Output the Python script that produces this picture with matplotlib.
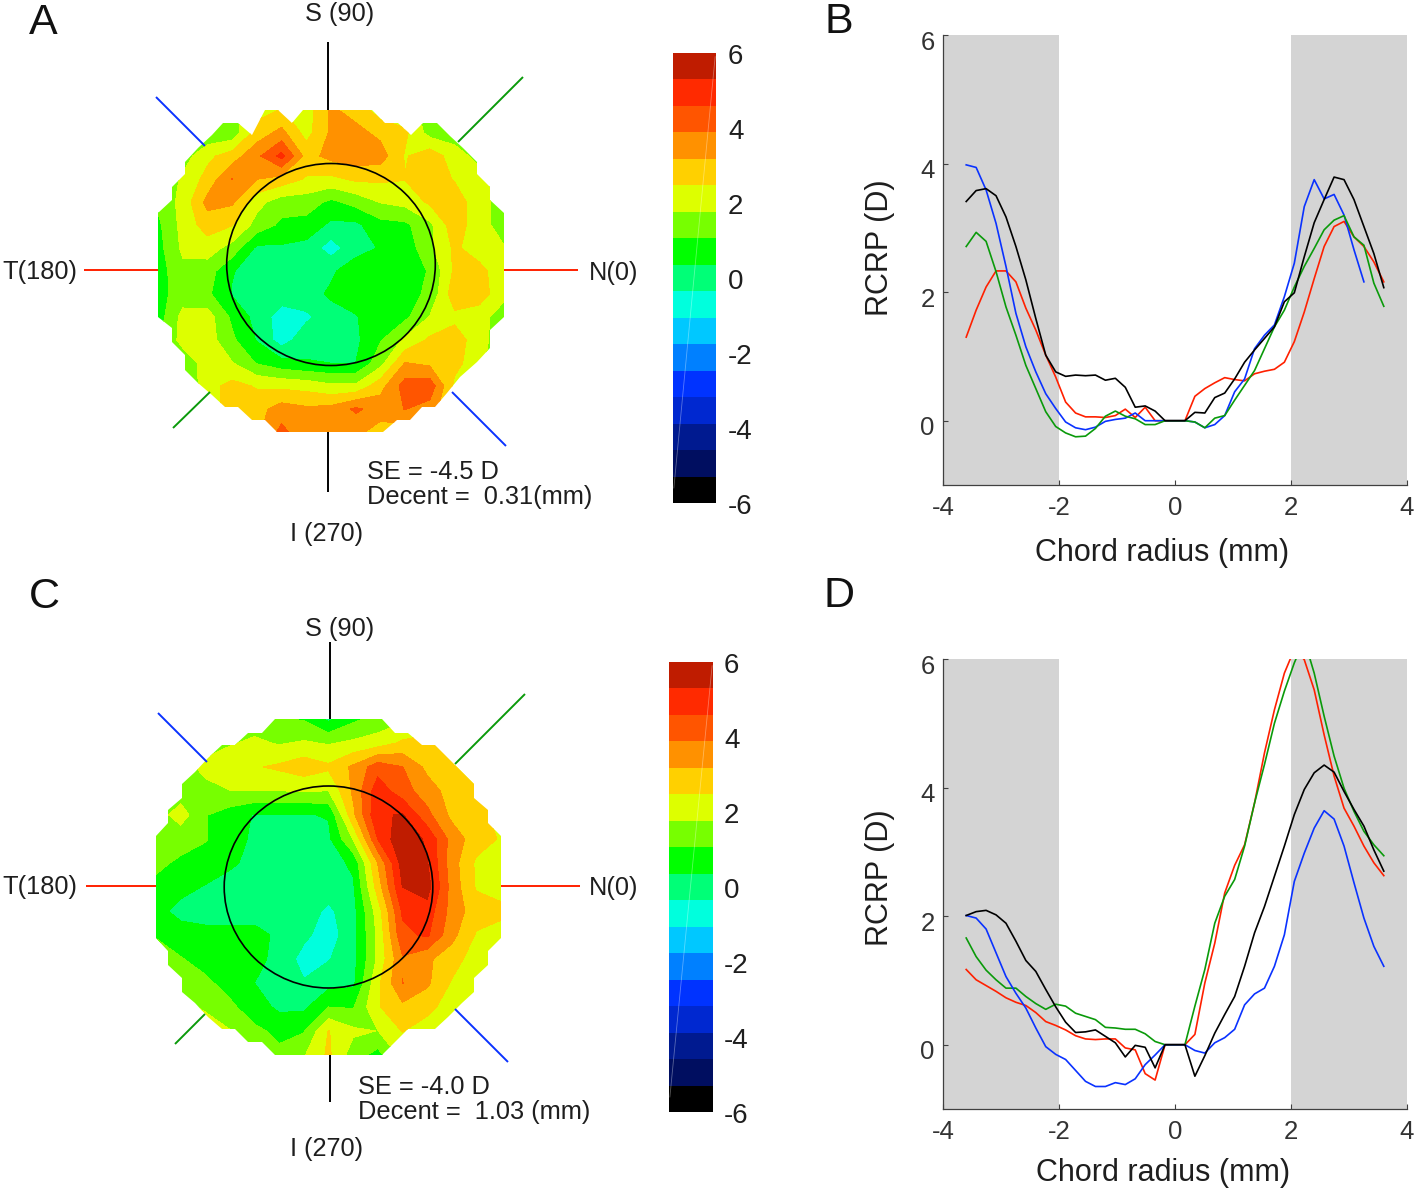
import numpy as np
import matplotlib
matplotlib.use("Agg")
import matplotlib.pyplot as plt
from matplotlib.patches import Ellipse, Polygon, Rectangle
from matplotlib.transforms import ScaledTranslation

plt.rcParams['font.family'] = ['Liberation Sans', 'DejaVu Sans']
plt.rcParams['axes.unicode_minus'] = False

W, H = 1416, 1190

# colour bands of the maps, low to high
band_colors = ['#000000', '#000E60', '#001A90', '#0028D0', '#0033FF', '#0080FF',
               '#00C8FF', '#00FFDD', '#00FF77', '#00FF00', '#77FF00', '#DDFF00',
               '#FFD000', '#FF9100', '#FF5500', '#FF2A00', '#BF1C00']
levels = np.linspace(-6, 6, 18)
cbar_ticks = [6, 4, 2, 0, -2, -4, -6]

# map A, refractive power (D) on a 15x15 grid, top row first
map_a = [
    [1.2, 1.2, 1.2, 1.6, 2.2, 2.5, 2.1, 3.3, 2.9, 2.1, 2.0, 1.5, 1.2, 1.0, 1.0],
    [1.0, 1.1, 1.2, 1.3, 2.8, 3.4, 2.2, 3.3, 3.4, 3.0, 2.6, 1.5, 1.4, 1.1, 1.0],
    [1.0, 1.4, 2.3, 2.8, 3.7, 4.8, 2.9, 3.4, 3.6, 3.5, 2.4, 2.9, 2.1, 1.5, 1.1],
    [1.0, 1.9, 2.7, 3.9, 3.2, 2.9, 2.4, 2.3, 2.6, 2.6, 2.5, 3.0, 2.4, 2.1, 1.2],
    [1.2, 2.0, 3.4, 3.3, 2.0, 1.4, 1.4, 0.9, 1.3, 1.8, 2.0, 2.6, 2.9, 2.0, 1.5],
    [0.9, 2.0, 2.8, 2.5, 1.5, 0.9, 0.8, 0.2, 0.2, 0.8, 0.9, 1.6, 2.9, 2.0, 1.5],
    [0.8, 1.9, 2.1, 1.5, 0.2, 0.25, 0.1, -0.7, 0.1, 0.4, 0.6, 1.6, 2.6, 2.1, 1.8],
    [0.7, 1.6, 1.4, 0.4, 0.0, 0.0, 0.0, 0.25, 0.7, 0.8, 0.8, 1.1, 2.6, 2.7, 2.0],
    [0.8, 1.4, 1.2, 0.3, -0.1, 0.0, 0.1, 0.45, 0.7, 0.8, 0.8, 1.2, 2.9, 2.8, 2.0],
    [0.7, 2.0, 2.1, 0.9, 0.1, -0.7, -0.5, 0.1, 0.3, 0.8, 0.9, 1.8, 2.3, 2.1, 1.3],
    [1.0, 2.0, 2.1, 1.2, 0.3, -0.7, 0.1, 0.1, 0.2, 1.0, 1.9, 2.6, 2.8, 2.1, 1.2],
    [1.0, 1.3, 2.1, 1.8, 1.0, 0.6, 0.4, 0.35, 0.35, 1.5, 3.2, 3.0, 2.7, 2.0, 1.0],
    [1.0, 1.0, 2.2, 2.7, 2.4, 2.3, 2.2, 1.9, 1.9, 2.9, 4.2, 4.3, 2.3, 2.0, 1.0],
    [1.0, 1.0, 2.0, 2.9, 2.9, 3.5, 3.3, 3.4, 4.0, 3.6, 3.9, 3.6, 2.3, 2.0, 1.0],
    [1.0, 1.0, 2.0, 2.6, 3.0, 4.1, 3.3, 3.3, 3.4, 2.8, 2.8, 2.8, 2.3, 2.0, 1.0],
]

# map C, same grid
map_c = [
    [1.4, 1.4, 1.4, 1.4, 1.4, 1.1, 1.0, 0.2, 0.9, 1.3, 1.6, 2.0, 2.4, 2.4, 2.4],
    [1.4, 1.4, 1.4, 1.7, 1.9, 1.7, 1.85, 1.7, 1.9, 2.1, 2.6, 2.7, 2.4, 2.4, 2.4],
    [1.4, 1.4, 2.0, 2.2, 2.4, 2.6, 2.9, 2.6, 3.3, 4.3, 3.9, 3.0, 2.7, 1.5, 1.5],
    [1.4, 1.4, 1.5, 1.75, 1.75, 1.75, 1.8, 1.75, 3.3, 5.0, 4.2, 3.5, 2.9, 2.7, 2.0],
    [1.4, 2.1, 1.1, 0.7, 0.3, 0.3, 0.3, 0.4, 3.0, 5.2, 5.35, 4.1, 3.0, 2.9, 2.1],
    [1.3, 1.3, 1.1, 0.7, 0.2, 0.2, 0.2, 0.2, 1.8, 4.6, 5.9, 5.15, 3.6, 2.8, 2.4],
    [1.2, 0.95, 0.8, 0.5, 0.1, 0.0, 0.0, 0.0, 0.5, 3.2, 5.6, 5.35, 3.5, 2.35, 2.1],
    [0.9, 0.6, 0.3, 0.0, 0.0, 0.0, 0.0, 0.0, 0.25, 2.8, 5.3, 5.6, 3.6, 2.4, 2.1],
    [0.6, 0.1, 0.0, 0.0, 0.0, 0.0, 0.0, -0.5, 0.1, 2.1, 4.7, 5.0, 3.6, 2.8, 2.7],
    [1.0, 0.7, 0.6, 0.6, 0.6, 0.2, -0.2, -0.7, 0.1, 1.9, 4.4, 4.7, 3.4, 2.4, 2.1],
    [1.4, 1.1, 0.8, 0.7, 0.6, 0.1, -0.6, -0.4, 0.1, 1.9, 3.8, 3.3, 2.8, 2.1, 2.0],
    [1.4, 1.5, 1.2, 0.8, 0.35, 0.1, -0.3, 0.1, 0.2, 2.3, 3.9, 3.3, 2.4, 2.1, 2.0],
    [1.9, 1.9, 1.7, 1.2, 0.7, 0.2, 0.2, 1.06, 1.0, 2.4, 3.0, 2.7, 2.1, 2.0, 2.0],
    [2.0, 2.0, 2.0, 1.8, 1.2, 0.9, 1.0, 2.5, 1.9, 1.75, 2.5, 2.1, 2.0, 2.0, 2.0],
    [2.0, 2.0, 2.0, 1.7, 1.4, 1.2, 1.7, 2.6, 1.4, 0.8, 2.0, 2.0, 2.0, 2.0, 2.0],
]

# staircase outline of the measured area, pixels
outline_a = [(265, 110), (278, 110), (292, 123), (303, 110), (372, 110), (385, 123), (398, 123),
             (411, 135), (423, 123), (437, 123), (450, 136), (463, 148), (477, 162), (477, 174),
             (490, 187), (490, 200), (504, 213), (504, 317), (490, 330), (490, 348), (477, 362),
             (460, 377), (447, 393), (435, 407), (422, 407), (410, 420), (397, 420), (383, 432),
             (277, 432), (265, 420), (252, 420), (238, 407), (225, 407), (212, 395), (198, 383),
             (185, 370), (185, 355), (172, 342), (172, 328), (158, 317), (158, 213), (172, 200),
             (172, 187), (185, 174), (185, 162), (198, 148), (212, 135), (223, 123), (238, 123),
             (252, 135)]
outline_c = [(275, 719), (382, 719), (395, 733), (408, 733), (422, 745), (435, 745), (448, 758),
             (462, 772), (474, 784), (474, 798), (488, 810), (488, 823), (501, 836), (501, 938),
             (488, 951), (488, 965), (474, 978), (474, 992), (462, 1003), (448, 1017), (435, 1029),
             (408, 1029), (395, 1042), (382, 1055), (275, 1055), (262, 1042), (248, 1042),
             (235, 1029), (222, 1029), (208, 1017), (195, 1003), (182, 992), (182, 978), (168, 965),
             (168, 951), (156, 938), (156, 836), (168, 823), (168, 810), (182, 798), (182, 784),
             (195, 772), (208, 758), (222, 745), (235, 745), (248, 733), (262, 733)]

# chord profiles, 43 samples across the chord
chord_r = np.linspace(-3.6, 3.6, 43)

b_black = [3.41, 3.58, 3.61, 3.50, 3.17, 2.71, 2.19, 1.59, 1.02, 0.76, 0.69, 0.71, 0.70, 0.71, 0.63,
           0.66, 0.52, 0.21, 0.23, 0.15, 0, 0, 0, 0.13, 0.12, 0.36, 0.43, 0.65, 0.91, 1.10, 1.28,
           1.46, 1.85, 1.99, 2.55, 3.08, 3.44, 3.79, 3.75, 3.44, 3.02, 2.60, 2.07]
b_blue = [3.98, 3.94, 3.59, 3.07, 2.40, 1.67, 1.15, 0.76, 0.42, 0.19, -0.02, -0.11, -0.14, -0.10,
          -0.01, 0.02, 0.04, 0.12, 0, 0, 0, 0, 0, -0.02, -0.11, -0.06, 0.08, 0.45, 0.65, 1.12, 1.33,
          1.49, 1.93, 2.45, 3.33, 3.75, 3.45, 3.52, 3.20, 2.66, 2.16]
b_green = [2.71, 2.93, 2.79, 2.32, 1.77, 1.33, 0.86, 0.50, 0.14, -0.09, -0.19, -0.25, -0.24, -0.12,
           0.07, 0.15, 0.07, 0.03, -0.06, -0.06, 0, 0, 0, -0.02, -0.11, 0.04, 0.08, 0.32, 0.55, 0.78,
           1.12, 1.46, 1.72, 2.08, 2.40, 2.68, 2.97, 3.12, 3.19, 2.86, 2.73, 2.14, 1.78]
b_red = [1.30, 1.72, 2.08, 2.33, 2.33, 2.16, 1.75, 1.41, 1.02, 0.68, 0.29, 0.12, 0.06, 0.06, 0.05,
         0.08, 0.18, 0.05, 0.21, 0, 0, 0, 0, 0.38, 0.50, 0.59, 0.67, 0.64, 0.62, 0.73, 0.77, 0.80,
         0.91, 1.23, 1.69, 2.21, 2.71, 3.02, 3.10, 2.86, 2.71, 2.47, 2.16]

d_black = [2.01, 2.07, 2.09, 2.02, 1.89, 1.61, 1.31, 1.14, 0.86, 0.59, 0.35, 0.19, 0.20, 0.23, 0.13,
           0.03, -0.19, -0.01, -0.04, -0.36, 0, 0, 0, -0.49, -0.17, 0.18, 0.47, 0.75, 1.22, 1.74,
           2.15, 2.62, 3.09, 3.58, 3.97, 4.23, 4.35, 4.24, 3.94, 3.66, 3.40, 3.03, 2.70]
d_blue = [2.01, 1.97, 1.80, 1.43, 1.06, 0.80, 0.57, 0.26, -0.03, -0.15, -0.23, -0.40, -0.57, -0.65,
          -0.65, -0.59, -0.62, -0.53, -0.31, -0.16, 0, 0, 0, -0.09, -0.13, 0.03, 0.11, 0.24, 0.62,
          0.79, 0.88, 1.22, 1.71, 2.54, 2.98, 3.37, 3.64, 3.51, 3.09, 2.52, 1.97, 1.53, 1.22]
d_green = [1.66, 1.37, 1.16, 1.01, 0.88, 0.88, 0.75, 0.64, 0.55, 0.63, 0.60, 0.49, 0.44, 0.39, 0.27,
           0.26, 0.24, 0.24, 0.17, 0.05, 0, 0, 0, 0.60, 1.17, 1.89, 2.31, 2.57, 3.09, 3.76, 4.36,
           5.00, 5.50, 5.94, 6.30, 5.78, 5.11, 4.49, 3.99, 3.63, 3.32, 3.11, 2.94]
d_red = [1.17, 1.01, 0.92, 0.83, 0.73, 0.66, 0.61, 0.50, 0.36, 0.30, 0.23, 0.14, 0.09, 0.08, 0.09,
         0.09, -0.05, -0.08, -0.45, -0.55, 0, 0, 0, 0.16, 0.96, 1.58, 2.36, 2.79, 3.11, 3.76, 4.54,
         5.21, 5.78, 6.15, 5.99, 5.52, 4.82, 4.18, 3.68, 3.40, 3.09, 2.83, 2.63]

RED = '#FF2000'
BLUE = '#0A32FF'
GREEN = '#0A9A0A'
TXT = '#1E1E1E'


def px_axes(left, top, right, bottom):
    return fig.add_axes([left / W, 1 - bottom / H, (right - left) / W, (bottom - top) / H])


def draw_map(ax, values, outline, xr, yr, center):
    X = np.linspace(xr[0], xr[1], 15)
    Y = np.linspace(yr[0], yr[1], 15)
    cs = ax.contourf(X, Y, np.array(values), levels=levels, colors=band_colors)
    clip = Polygon(outline, closed=True, transform=ax.transData, fc='none', ec='none')
    ax.add_patch(clip)
    cs.set_clip_path(clip)
    ax.add_patch(Ellipse(center, 208.6, 202, fc='none', ec='black', lw=1.2))


def spokes(ax, segs):
    for (x0, y0, x1, y1, c) in segs:
        ax.plot([x0, x1], [y0, y1], color=c, lw=1.4, solid_capstyle='butt')


def draw_cbar(left, top, right, bottom, label_x):
    cax = px_axes(left, top, right, bottom)
    cax.pcolormesh([0, 1], levels, np.arange(17).reshape(-1, 1),
                   cmap=matplotlib.colors.ListedColormap(band_colors), vmin=-0.5, vmax=16.5)
    cax.set_xlim(0, 1)
    cax.set_ylim(-6, 6)
    cax.axis('off')
    # faint diagonal seam in the bar
    cax.plot([0.02, 0.98], [-5.6, 5.9], color='white', lw=0.6, alpha=0.35)
    for t in cbar_ticks:
        y = top + 4 + (6 - t) * (bottom - top) / 12
        over.text(label_x, y, str(t), fontsize=20, color=TXT, ha='left', va='center')


def draw_profile(left, top, right, bottom, curves):
    ax = px_axes(left, top, right, bottom)
    ax.add_patch(Rectangle((-4, -1), 2, 7, fc='#D4D4D4', ec='none'))
    ax.add_patch(Rectangle((2, -1), 2, 7, fc='#D4D4D4', ec='none'))
    for y, c in curves:
        ax.plot(chord_r[:len(y)], y, color=c, lw=1.2)
    ax.set_xlim(-4, 4)
    ax.set_ylim(-1, 6)
    ax.set_xticks([-4, -2, 0, 2, 4])
    ax.set_yticks([0, 2, 4, 6])
    ax.tick_params(direction='in', length=3.5, width=0.8, color='#404040', labelsize=18.5,
                   labelcolor='#333333')
    ax.tick_params(axis='x', pad=8)
    ax.tick_params(axis='y', pad=6)
    shift = ScaledTranslation(0, -5 / 100, fig.dpi_scale_trans)
    for lab in ax.get_yticklabels():
        lab.set_transform(lab.get_transform() + shift)
    for s in ['top', 'right']:
        ax.spines[s].set_visible(False)
    for s in ['left', 'bottom']:
        ax.spines[s].set_color('#404040')
        ax.spines[s].set_linewidth(0.9)
    ax.patch.set_alpha(0)


fig = plt.figure(figsize=(W / 100, H / 100), dpi=100)
over = fig.add_axes([0, 0, 1, 1])
over.set_xlim(0, W)
over.set_ylim(H, 0)
over.axis('off')

draw_map(over, map_a, outline_a, (158, 504), (110, 432), (331, 264.5))
draw_map(over, map_c, outline_c, (156, 501), (719, 1055), (328.5, 887))

spokes(over, [(328, 42, 328, 110, 'black'), (328, 432, 328, 492, 'black'),
              (84, 270, 158, 270, RED), (504, 270, 578, 270, RED),
              (156, 97, 205, 146, BLUE), (452, 392, 506, 446, BLUE),
              (523, 77, 458, 142, GREEN), (210, 392, 173, 428, GREEN)])
spokes(over, [(330, 642, 330, 719, 'black'), (330, 1055, 330, 1102, 'black'),
              (86, 886, 156, 886, RED), (501, 886, 580, 886, RED),
              (158, 713, 207, 762, BLUE), (455, 1009, 508, 1062, BLUE),
              (525, 694, 455, 764, GREEN), (205, 1014, 175, 1044, GREEN)])

labels = [(340, 14, 'S (90)', 'center'), (2, 272, 'T(180)', 'left'), (589, 273, 'N(0)', 'left'),
          (327, 534, 'I (270)', 'center'), (367, 472, 'SE = -4.5 D', 'left'),
          (367, 497, 'Decent =  0.31(mm)', 'left'),
          (340, 629, 'S (90)', 'center'), (2, 887, 'T(180)', 'left'), (589, 888, 'N(0)', 'left'),
          (327, 1149, 'I (270)', 'center'), (358, 1087, 'SE = -4.0 D', 'left'),
          (358, 1112, 'Decent =  1.03 (mm)', 'left')]
for x, y, s, ha in labels:
    over.text(x, y, s, fontsize=18.3, color=TXT, ha=ha, va='center')

for x, y, s in [(43, 23, 'A'), (839, 22, 'B'), (44, 597, 'C'), (839, 596, 'D')]:
    over.text(x, y, s, fontsize=31, color='#111111', ha='center', va='center')

draw_cbar(673, 53, 716, 503, 728)
draw_cbar(669, 662, 713, 1112, 724)

draw_profile(943, 35, 1407, 485, [(b_red, RED), (b_blue, BLUE), (b_green, GREEN), (b_black, 'black')])
draw_profile(943, 659, 1407, 1109, [(d_red, RED), (d_green, GREEN), (d_blue, BLUE), (d_black, 'black')])

for x, y in [(880, 248), (880, 878)]:
    over.text(x, y, 'RCRP (D)', fontsize=22, color=TXT, rotation=90, ha='center', va='center')
over.text(1162, 553, 'Chord radius (mm)', fontsize=22, color=TXT, ha='center', va='center')
over.text(1163, 1173, 'Chord radius (mm)', fontsize=22, color=TXT, ha='center', va='center')

fig.savefig("out.png", dpi=100)
